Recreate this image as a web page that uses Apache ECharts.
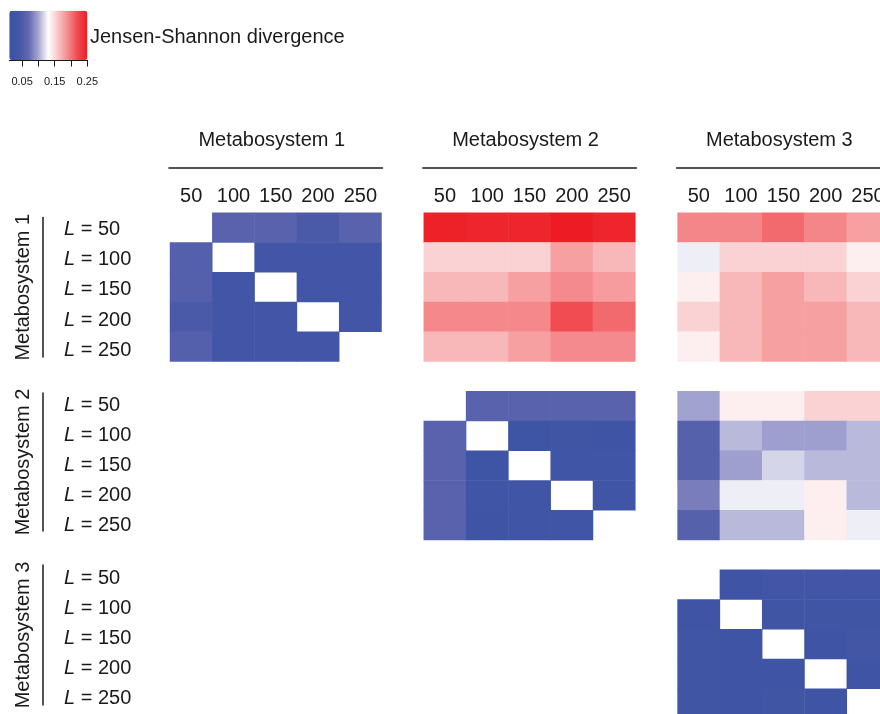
<!DOCTYPE html>
<html><head><meta charset="utf-8">
<script src="https://cdn.jsdelivr.net/npm/echarts@6/dist/echarts.min.js"></script>
<style>html,body{margin:0;padding:0;background:#fff}#c{width:880px;height:714px}</style>
</head><body><div id="c"></div>
<script>
// ---------- data ----------
const systems = ['Metabosystem 1', 'Metabosystem 2', 'Metabosystem 3'];
const lengths = [50, 100, 150, 200, 250];
const legendTitle = 'Jensen-Shannon divergence';
const legendTicks = [0.05, 0.10, 0.15, 0.20, 0.25];
const legendLabels = [0.05, 0.15, 0.25];
const scaleMin = 0.0108, scaleMax = 0.25;
const rampColors = ['#3a53a4', '#4456a6', '#6369b1', '#a8a8d3', '#ffffff',
                    '#f9c4c6', '#f48a8d', '#f04a4f', '#ed1c24'];

// Jensen-Shannon divergence, rows = L of row system, cols = L of column system
const ms1_ms1 = [
  [null, 0.061, 0.061, 0.047, 0.061],
  [0.056, null, 0.035, 0.035, 0.035],
  [0.056, 0.035, null, 0.035, 0.035],
  [0.047, 0.035, 0.035, null, 0.035],
  [0.056, 0.035, 0.035, 0.035, null]];
const ms1_ms2 = [
  [0.247, 0.244, 0.244, 0.250, 0.244],
  [0.153, 0.153, 0.153, 0.179, 0.167],
  [0.167, 0.167, 0.179, 0.190, 0.181],
  [0.191, 0.191, 0.191, 0.219, 0.205],
  [0.167, 0.167, 0.179, 0.190, 0.190]];
const ms1_ms3 = [
  [0.192, 0.192, 0.205, 0.192, 0.179],
  [0.1245, 0.153, 0.153, 0.153, 0.139],
  [0.139, 0.167, 0.179, 0.167, 0.153],
  [0.153, 0.167, 0.179, 0.179, 0.167],
  [0.139, 0.167, 0.179, 0.179, 0.167]];
const ms2_ms2 = [
  [null, 0.061, 0.061, 0.061, 0.061],
  [0.061, null, 0.022, 0.032, 0.025],
  [0.061, 0.022, null, 0.030, 0.030],
  [0.061, 0.030, 0.030, null, 0.030],
  [0.061, 0.025, 0.030, 0.030, null]];
const ms2_ms3 = [
  [0.0975, 0.139, 0.139, 0.153, 0.153],
  [0.058, 0.1065, 0.096, 0.096, 0.1065],
  [0.058, 0.096, 0.116, 0.1065, 0.1065],
  [0.080, 0.1245, 0.1245, 0.139, 0.1065],
  [0.058, 0.1065, 0.1065, 0.139, 0.1245]];
const ms3_ms3 = [
  [null, 0.025, 0.035, 0.035, 0.035],
  [0.025, null, 0.033, 0.033, 0.033],
  [0.033, 0.025, null, 0.025, 0.038],
  [0.033, 0.025, 0.025, null, 0.025],
  [0.033, 0.025, 0.033, 0.025, null]];

// ---------- build ----------
const FONT = 'Liberation Sans, Arial, Helvetica, sans-serif';
const INK = '#1a1a1a';
const blocks = [[0, 0, ms1_ms1], [0, 1, ms1_ms2], [0, 2, ms1_ms3],
                [1, 1, ms2_ms2], [1, 2, ms2_ms3], [2, 2, ms3_ms3]];
const step = lengths.length + 1;
const nCells = systems.length * step - 1;
const cats = [];
systems.forEach((s, k) => {
  lengths.forEach(l => cats.push(String(l)));
  if (k < systems.length - 1) cats.push('');
});
const data = [];
blocks.forEach(([r, c, m]) => m.forEach((row, i) => row.forEach((v, j) => {
  if (v != null) data.push([c * step + j, r * step + i, v]);
})));

const cellW = 42.3, cellH = 29.75, gLeft = 170, gTop = 212.7;
const blockW = lengths.length * cellW;

const grids = [{ left: gLeft, top: gTop, width: nCells * cellW, height: nCells * cellH, outerBoundsMode: 'none', containLabel: false }];
const xAxes = [{
  type: 'category', data: cats, gridIndex: 0, position: 'top',
  axisLine: { show: false }, axisTick: { show: false }, splitLine: { show: false },
  axisLabel: { interval: 0, fontSize: 20, color: INK, fontFamily: FONT, margin: 6, hideOverlap: false }
}];
const yAxes = [{
  type: 'category', data: cats, gridIndex: 0, inverse: true,
  axisLine: { show: false }, axisTick: { show: false }, splitLine: { show: false },
  axisLabel: { show: false }
}];

// row labels (L = ...), one label column per row block
const labelTop = [214, 391, 564], labelH = [151.5, 149, 149];
systems.forEach((s, k) => {
  const gi = grids.length;
  grids.push({ left: gLeft, top: labelTop[k], width: 10, height: labelH[k], outerBoundsMode: 'none' });
  xAxes.push({ type: 'value', gridIndex: gi, show: false });
  yAxes.push({
    type: 'category', data: lengths.map(String), gridIndex: gi, inverse: true,
    axisLine: { show: false }, axisTick: { show: false }, splitLine: { show: false },
    axisLabel: {
      interval: 0, fontSize: 20, color: INK, fontFamily: FONT, align: 'left', margin: 106,
      formatter: v => '{i|L} = ' + v,
      rich: { i: { fontStyle: 'italic', fontSize: 20, color: INK, fontFamily: FONT } }
    }
  });
});

// column headers (line + name)
systems.forEach((s, k) => {
  const gi = grids.length;
  grids.push({ left: gLeft - 1 + k * step * cellW, top: 158, width: blockW + 2, height: 10, outerBoundsMode: 'none' });
  xAxes.push({
    type: 'value', gridIndex: gi, position: 'top', min: 0, max: 1,
    axisLine: { show: true, lineStyle: { color: INK, width: 1.5 } },
    axisTick: { show: false }, axisLabel: { show: false }, splitLine: { show: false },
    name: s, nameLocation: 'middle', nameGap: 8,
    nameTextStyle: { fontSize: 20, color: INK, fontFamily: FONT, padding: [0, 8, 0, 0] }
  });
  yAxes.push({ type: 'value', gridIndex: gi, show: false });
});

// row headers (vertical line + rotated name)
const rowLineTop = [217.5, 393, 565], rowLineBottom = [357, 531, 705];
systems.forEach((s, k) => {
  const gi = grids.length;
  grids.push({ left: 42.5, top: rowLineTop[k], width: 10, height: rowLineBottom[k] - rowLineTop[k], outerBoundsMode: 'none' });
  xAxes.push({ type: 'value', gridIndex: gi, show: false });
  yAxes.push({
    type: 'value', gridIndex: gi, position: 'left', min: 0, max: 1,
    axisLine: { show: true, lineStyle: { color: INK, width: 1.5 } },
    axisTick: { show: false }, axisLabel: { show: false }, splitLine: { show: false },
    name: s, nameLocation: 'middle', nameGap: 9, nameRotate: 90,
    nameTextStyle: { fontSize: 20, color: INK, fontFamily: FONT }
  });
});

// legend tick axis
const lgi = grids.length;
grids.push({ left: 9.3, top: 59, width: 78, height: 1, outerBoundsMode: 'none' });
xAxes.push({
  type: 'value', gridIndex: lgi, position: 'bottom', min: scaleMin, max: scaleMax,
  axisLine: { show: true, lineStyle: { color: INK, width: 1 } },
  axisTick: { show: true, customValues: legendTicks, length: 6.5, lineStyle: { color: INK, width: 1 } },
  axisLabel: { customValues: legendLabels, fontSize: 11, color: INK, fontFamily: FONT, margin: 16,
               formatter: v => v.toFixed(2) },
  splitLine: { show: false }
});
yAxes.push({ type: 'value', gridIndex: lgi, show: false });

const chart = echarts.init(document.getElementById('c'), null, { renderer: 'canvas' });
chart.setOption({
  animation: false,
  backgroundColor: '#fff',
  title: {
    text: legendTitle, left: 90, top: 27, padding: 0,
    textStyle: { fontSize: 20, fontWeight: 'normal', color: INK, fontFamily: FONT }
  },
  grid: grids, xAxis: xAxes, yAxis: yAxes,
  visualMap: {
    type: 'continuous', min: scaleMin, max: scaleMax, orient: 'horizontal',
    left: 9.3, top: 10.7, itemWidth: 49.3, itemHeight: 78, padding: 0,
    calculable: false, hoverLink: false, seriesIndex: 0,
    inRange: { color: rampColors }
  },
  series: [{
    type: 'heatmap', xAxisIndex: 0, yAxisIndex: 0, data: data,
    itemStyle: { borderWidth: 0 }, emphasis: { disabled: true }
  }]
});
</script></body></html>
